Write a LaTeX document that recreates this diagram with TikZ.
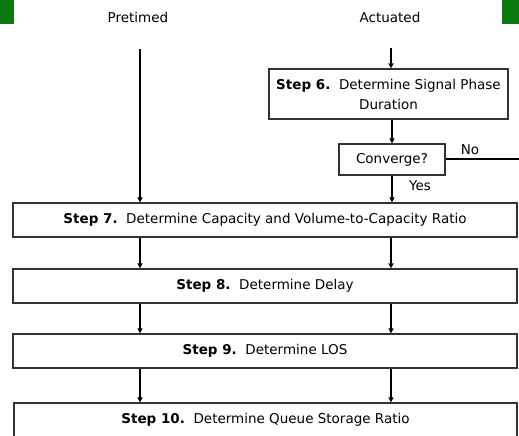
\documentclass[tikz,border=0pt]{standalone}
\usepackage{fontspec}
\setmainfont{DejaVu Sans}
\usepackage{tikz}
\usetikzlibrary{arrows.meta}

\definecolor{bargreen}{RGB}{10,122,14}

\tikzset{
  stepbox/.style={draw=black!80, line width=1.3pt, minimum width=504pt,
    minimum height=34pt, inner sep=0pt, font=\fontsize{13.5}{20}\selectfont},
  flow/.style={-{Triangle[length=5pt,width=5pt]}, line width=1.5pt},
  lbl/.style={font=\fontsize{13.5}{16}\selectfont, inner sep=0pt},
}

\begin{document}
\begin{tikzpicture}[x=1pt,y=-1pt]
\useasboundingbox (0,0) rectangle (519,436);
\clip (0,0) rectangle (519,436);

\fill [bargreen] (0,0) rectangle (14,24);
\fill [bargreen] (502,0) rectangle (519,24);

\node (pre) at (138,17) [lbl] {Pretimed};
\node (act) at (390,17) [lbl] {Actuated};
\coordinate (pretop) at (140,49);
\coordinate (acttop) at (391,48);

\node (s6) at (388.5,94) [stepbox, minimum width=239pt, minimum height=50pt,
  align=center] {\textbf{Step 6.}\ \ Determine Signal Phase\\Duration};
\node (conv) at (392,159.5) [stepbox, minimum width=106pt, minimum height=31pt]
  {Converge?};

\node (s7) at (265,220) [stepbox] {\textbf{Step 7.}\ \ Determine Capacity and Volume-to-Capacity Ratio};
\node (s8) at (265,286) [stepbox] {\textbf{Step 8.}\ \ Determine Delay};
\node (s9) at (265,351) [stepbox] {\textbf{Step 9.}\ \ Determine LOS};
\node (s10) at (265.5,420) [stepbox, minimum width=503pt] {\textbf{Step 10.}\ \ Determine Queue Storage Ratio};

% pretimed branch
\draw [flow] (pretop) -- (s7.north -| pretop);

% actuated branch
\draw [flow] (acttop) -- (s6.north -| acttop);
\draw [flow] (s6.south -| conv) -- (conv.north);
\draw [flow] (conv.south) -- (s7.north -| conv.south);
\coordinate (noend) at (519,159);
\draw [line width=2pt] (conv.east |- noend) -- (noend);
\node (no) at (470,150) [lbl] {No};
\node (yes) at (420,186) [lbl] {Yes};

% common steps
\draw [flow] (s7.south -| pretop) -- (s8.north -| pretop);
\draw [flow] (s7.south -| acttop) -- (s8.north -| acttop);
\draw [flow] (s8.south -| pretop) -- (s9.north -| pretop);
\draw [flow] (s8.south -| acttop) -- (s9.north -| acttop);
\draw [flow] (s9.south -| pretop) -- (s10.north -| pretop);
\draw [flow] (s9.south -| acttop) -- (s10.north -| acttop);

\end{tikzpicture}
\end{document}
